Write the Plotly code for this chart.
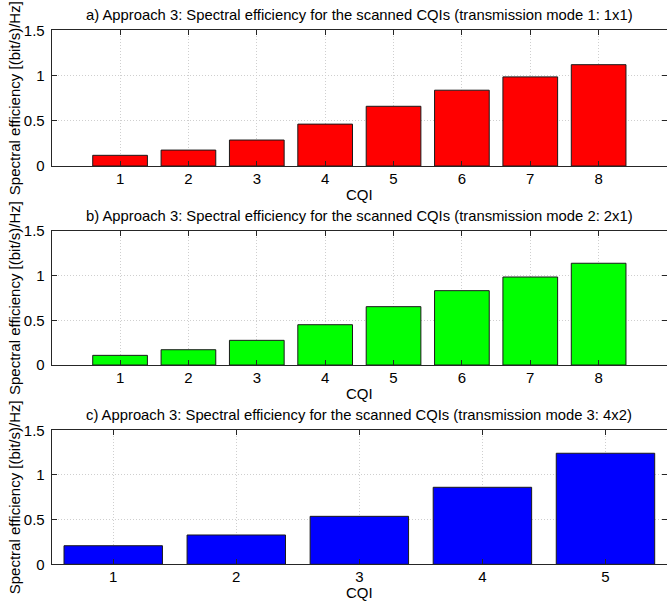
import plotly.graph_objects as go

# Spectral efficiency per CQI for each transmission mode
cqi_mode1 = [1, 2, 3, 4, 5, 6, 7, 8]
eff_mode1 = [0.118, 0.176, 0.287, 0.463, 0.660, 0.838, 0.985, 1.120]

cqi_mode2 = [1, 2, 3, 4, 5, 6, 7, 8]
eff_mode2 = [0.108, 0.171, 0.276, 0.451, 0.653, 0.832, 0.985, 1.139]

cqi_mode3 = [1, 2, 3, 4, 5]
eff_mode3 = [0.208, 0.328, 0.537, 0.862, 1.243]

titles = [
    "a) Approach 3: Spectral efficiency for the scanned CQIs (transmission mode 1: 1x1)",
    "b) Approach 3: Spectral efficiency for the scanned CQIs (transmission mode 2: 2x1)",
    "c) Approach 3: Spectral efficiency for the scanned CQIs (transmission mode 3: 4x2)",
]
y_ticks = [0, 0.5, 1, 1.5]
y_tick_text = ["0", "0.5", "1", "1.5"]
x_label = "CQI"
y_label = "Spectral efficiency [(bit/s)/Hz]"

W, H = 667, 603
FONT = "Liberation Sans, Arial, Helvetica, sans-serif"
FS = 15.0
FS_TITLE = 14.8
AXIS_COLOR = "#262626"

# panel geometry in pixels: (top, bottom)
panels_px = [(30.3, 166.0), (231.0, 365.0), (430.3, 564.3)]
left_px = 51.7

series = [
    (cqi_mode1, eff_mode1, "#ff0000", [0, 9]),
    (cqi_mode2, eff_mode2, "#00ff00", [0, 9]),
    (cqi_mode3, eff_mode3, "#0000ff", [0.5, 5.5]),
]

fig = go.Figure()
annotations = []

for i, ((cats, vals, color, xr), (top, bot)) in enumerate(zip(series, panels_px)):
    n = "" if i == 0 else str(i + 1)
    fig.add_trace(go.Bar(
        x=cats, y=vals, width=0.8,
        marker=dict(color=color, line=dict(color="#1a1a1a", width=1)),
        xaxis="x" + n, yaxis="y" + n, showlegend=False,
    ))
    dom_y = [1 - bot / H, 1 - top / H]
    common = dict(
        showline=True, linecolor=AXIS_COLOR, linewidth=1, mirror="allticks",
        ticks="inside", ticklen=5, tickcolor=AXIS_COLOR, tickwidth=1,
        showgrid=True, gridcolor="#cfcfcf", griddash="1px,2px", gridwidth=1,
        zeroline=False, automargin=False,
        tickfont=dict(family=FONT, size=FS, color="black"),
    )
    fig.update_layout(**{
        "xaxis" + n: dict(
            domain=[left_px / W, 1.0], range=xr, tickmode="array",
            tickvals=cats, anchor="y" + n, ticklabelstandoff=-1, **common,
        ),
        "yaxis" + n: dict(
            domain=dom_y, range=[0, 1.5], tickmode="array",
            tickvals=y_ticks, ticktext=y_tick_text, anchor="x" + n,
            ticklabelstandoff=3, **common,
        ),
    })
    cx = (left_px + W) / 2 / W
    annotations.append(dict(
        text=titles[i], x=cx, y=1 - (top - 15) / H, xref="paper", yref="paper",
        xanchor="center", yanchor="middle", showarrow=False,
        font=dict(family=FONT, size=FS_TITLE, color="black"),
    ))
    annotations.append(dict(
        text=x_label, x=cx, y=1 - (bot + 28) / H, xref="paper", yref="paper",
        xanchor="center", yanchor="middle", showarrow=False,
        font=dict(family=FONT, size=FS, color="black"),
    ))
    annotations.append(dict(
        text=y_label, x=14 / W, y=1 - (top + bot) / 2 / H, xref="paper", yref="paper",
        xanchor="center", yanchor="middle", showarrow=False, textangle=-90,
        font=dict(family=FONT, size=FS, color="black"),
    ))

fig.update_layout(
    width=W, height=H, margin=dict(l=0, r=0, t=0, b=0, autoexpand=False),
    paper_bgcolor="white", plot_bgcolor="white",
    annotations=annotations, showlegend=False,
)

fig.write_html("out.html")
